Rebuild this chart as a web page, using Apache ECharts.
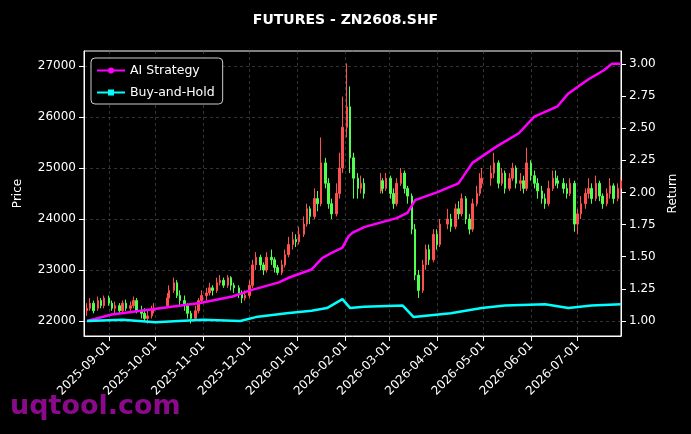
<!DOCTYPE html>
<html>
<head>
    <meta charset="utf-8">
    <title>FUTURES - ZN2608.SHF</title>
    <style>
        *{ margin:0; padding:0; box-sizing:border-box; }
        html, body, #chart{ width:100%; height:100%; overflow:hidden; background:#000; }
    </style>
</head>
<body>
    <div id="chart"></div>
    <script src="https://cdn.jsdelivr.net/npm/echarts@6/dist/echarts.min.js"></script>
    <script>
        // [date, open, close, low, high]
        var candles = [
            ['2025-08-18',22200,22250,22100,22350],['2025-08-20',22250,22350,22200,22450],['2025-08-22',22350,22200,22150,22400],
            ['2025-08-25',22250,22400,22200,22480],['2025-08-27',22400,22300,22250,22450],['2025-08-29',22300,22450,22250,22500],
            ['2025-09-01',22450,22350,22300,22500],['2025-09-03',22350,22250,22200,22400],['2025-09-05',22250,22300,22150,22380],
            ['2025-09-08',22300,22200,22150,22350],['2025-09-10',22200,22350,22150,22400],['2025-09-12',22350,22250,22200,22420],
            ['2025-09-15',22250,22300,22200,22380],['2025-09-17',22300,22400,22250,22480],['2025-09-19',22400,22200,22150,22450],
            ['2025-09-22',22200,22150,22050,22300],['2025-09-24',22150,22050,22000,22250],['2025-09-26',22050,22100,21950,22200],
            ['2025-09-29',22100,22200,22050,22300],['2025-09-30',22200,22250,22150,22350],
            ['2025-10-09',22300,22450,22250,22550],['2025-10-10',22450,22600,22400,22700],
            ['2025-10-13',22600,22750,22550,22850],['2025-10-15',22750,22500,22450,22800],['2025-10-17',22500,22400,22300,22600],
            ['2025-10-20',22400,22300,22200,22500],['2025-10-22',22300,22150,22050,22350],['2025-10-24',22150,22050,21950,22200],
            ['2025-10-27',22050,22200,22000,22300],['2025-10-29',22200,22400,22150,22450],['2025-10-31',22400,22500,22350,22600],
            ['2025-11-03',22500,22550,22400,22650],['2025-11-05',22550,22650,22500,22750],['2025-11-07',22650,22600,22500,22700],
            ['2025-11-10',22600,22750,22550,22850],['2025-11-12',22750,22800,22700,22900],['2025-11-14',22800,22700,22650,22850],
            ['2025-11-17',22700,22850,22650,22900],['2025-11-19',22850,22700,22600,22880],['2025-11-21',22700,22650,22550,22750],
            ['2025-11-24',22650,22550,22450,22700],['2025-11-26',22550,22450,22350,22600],['2025-11-28',22450,22500,22400,22600],
            ['2025-12-01',22500,22700,22450,22800],['2025-12-03',22700,23100,22650,23200],['2025-12-05',23100,23250,23000,23350],
            ['2025-12-08',23250,23100,23000,23300],['2025-12-10',23100,23000,22900,23150],['2025-12-12',23000,23250,22950,23350],
            ['2025-12-15',23250,23200,23100,23400],['2025-12-17',23200,23050,22950,23250],['2025-12-19',23050,22950,22900,23100],
            ['2025-12-22',22950,23100,22900,23200],['2025-12-24',23100,23300,23050,23400],['2025-12-26',23300,23500,23250,23650],
            ['2025-12-29',23500,23600,23400,23750],['2025-12-31',23600,23550,23450,23700],['2026-01-02',23550,23700,23500,23850],
            ['2026-01-05',23700,23900,23650,24050],['2026-01-07',23900,24200,23850,24300],['2026-01-09',24200,24050,23900,24250],
            ['2026-01-12',24050,24400,24000,24600],['2026-01-14',24400,24300,24150,24550],['2026-01-16',24300,25100,24250,25600],
            ['2026-01-19',25100,24700,24600,25200],['2026-01-21',24700,24300,24200,24800],['2026-01-23',24300,24100,24000,24400],
            ['2026-01-26',24100,24500,24050,24700],['2026-01-28',24500,25000,24400,25300],['2026-01-30',25000,25800,24900,26400],
            ['2026-02-02',25800,26200,25600,27050],['2026-02-04',26200,25200,24900,26600],['2026-02-06',25200,24800,24400,25300],
            ['2026-02-09',24800,24600,24400,24900],['2026-02-11',24600,24700,24500,24850],['2026-02-13',24700,24500,24400,24800],
            ['2026-02-24',24550,24750,24500,24900],['2026-02-25',24750,24600,24500,24800],['2026-02-27',24600,24800,24550,24900],
            ['2026-03-02',24800,24500,24400,24850],['2026-03-04',24500,24300,24200,24600],['2026-03-06',24300,24700,24250,24800],
            ['2026-03-09',24700,24900,24650,25000],['2026-03-11',24900,24600,24500,24950],['2026-03-13',24600,24450,24300,24650],
            ['2026-03-16',24450,23800,23700,24500],['2026-03-18',23800,22900,22800,23900],['2026-03-20',22900,22600,22450,23000],
            ['2026-03-23',22600,23100,22550,23200],['2026-03-25',23100,23400,23000,23500],['2026-03-27',23400,23200,23100,23500],
            ['2026-03-30',23200,23700,23150,23800],['2026-04-01',23700,23500,23400,23800],['2026-04-03',23500,23900,23450,24000],
            ['2026-04-08',23900,24000,23800,24200],['2026-04-10',24000,23850,23750,24100],
            ['2026-04-13',23850,24200,23800,24300],['2026-04-15',24200,24100,24000,24350],['2026-04-17',24100,24400,24050,24500],
            ['2026-04-20',24400,24000,23900,24450],['2026-04-22',24000,23800,23700,24100],['2026-04-24',23800,24300,23750,24400],
            ['2026-04-27',24300,24500,24250,24650],['2026-04-29',24500,24700,24450,24900],['2026-04-30',24700,24800,24600,25000],
            ['2026-05-06',24800,24900,24650,25050],['2026-05-08',24900,25100,24800,25300],
            ['2026-05-11',25100,24700,24600,25150],['2026-05-13',24700,24900,24650,25000],['2026-05-15',24900,24600,24500,24950],
            ['2026-05-18',24600,24800,24550,24900],['2026-05-20',24800,25000,24750,25100],['2026-05-22',25000,24700,24600,25050],
            ['2026-05-25',24700,24750,24550,24900],['2026-05-27',24750,24600,24500,24850],['2026-05-29',24600,25100,24550,25400],
            ['2026-06-01',25100,24850,24750,25150],['2026-06-03',24850,24700,24600,24950],['2026-06-05',24700,24550,24400,24800],
            ['2026-06-08',24550,24400,24300,24650],['2026-06-10',24400,24300,24200,24500],['2026-06-12',24300,24600,24250,24750],
            ['2026-06-15',24600,24800,24550,24950],['2026-06-17',24800,24750,24650,24950],['2026-06-18',24750,24700,24600,24850],
            ['2026-06-22',24700,24600,24500,24800],['2026-06-24',24600,24500,24400,24700],['2026-06-26',24500,24700,24450,24800],
            ['2026-06-29',24700,23900,23750,24750],['2026-07-01',23900,24100,23700,24200],['2026-07-03',24100,24300,24000,24450],
            ['2026-07-06',24300,24500,24200,24600],['2026-07-08',24500,24600,24400,24800],['2026-07-10',24600,24400,24300,24700],
            ['2026-07-13',24400,24700,24350,24850],['2026-07-15',24700,24450,24350,24750],['2026-07-17',24450,24300,24200,24500],
            ['2026-07-20',24300,24500,24250,24600],['2026-07-22',24500,24650,24400,24800],['2026-07-24',24650,24400,24300,24700],
            ['2026-07-27',24400,24600,24350,24700],['2026-07-29',24600,24750,24500,24850]
        ];

        var aiReturn = [
            ['2025-08-18',1.00],['2025-09-03',1.05],['2025-09-28',1.09],['2025-10-30',1.14],['2025-11-20',1.19],
            ['2025-12-02',1.24],['2025-12-20',1.30],['2025-12-27',1.34],['2026-01-10',1.40],['2026-01-17',1.49],
            ['2026-01-23',1.53],['2026-01-30',1.57],['2026-02-03',1.66],['2026-02-06',1.69],['2026-02-13',1.73],
            ['2026-03-06',1.80],['2026-03-13',1.84],['2026-03-18',1.94],['2026-04-01',2.00],['2026-04-15',2.07],
            ['2026-04-24',2.23],['2026-05-10',2.36],['2026-05-24',2.46],['2026-06-03',2.59],['2026-06-18',2.67],
            ['2026-06-25',2.77],['2026-07-08',2.88],['2026-07-18',2.95],['2026-07-23',3.00],['2026-07-29',3.00]
        ];

        var bhReturn = [
            ['2025-08-18',1.00],['2025-09-10',1.01],['2025-10-01',0.99],['2025-11-01',1.01],['2025-11-25',1.00],
            ['2025-12-05',1.03],['2025-12-25',1.06],['2026-01-10',1.08],['2026-01-20',1.10],['2026-01-30',1.17],
            ['2026-02-04',1.10],['2026-02-13',1.11],['2026-03-10',1.12],['2026-03-17',1.03],['2026-03-25',1.04],
            ['2026-04-10',1.06],['2026-04-30',1.10],['2026-05-15',1.12],['2026-06-10',1.13],['2026-06-25',1.10],
            ['2026-07-10',1.12],['2026-07-29',1.13]
        ];

        var monthTicks = ['2025-09-01','2025-10-01','2025-11-01','2025-12-01','2026-01-01','2026-02-01',
            '2026-03-01','2026-04-01','2026-05-01','2026-06-01','2026-07-01'];
        var priceTicks = [22000, 23000, 24000, 25000, 26000, 27000];
        var returnTicks = [1.00, 1.25, 1.50, 1.75, 2.00, 2.25, 2.50, 2.75, 3.00];

        var font = 'DejaVu Sans';
        function ts(d) { return Date.UTC(+d.slice(0, 4), +d.slice(5, 7) - 1, +d.slice(8, 10)); }
        function pad(n) { return (n < 10 ? '0' : '') + n; }
        function fmt(v) { var d = new Date(v); return d.getUTCFullYear() + '-' + pad(d.getUTCMonth() + 1) + '-' + pad(d.getUTCDate()); }
        var tickTs = monthTicks.map(ts);
        var splitDash = { show: true, lineStyle: { color: '#555', type: [3, 3], width: 0.6 } };

        var myChart = echarts.init(document.getElementById('chart'));
        var option = {
            backgroundColor: '#000',
            animation: false,
            title: {
                text: 'FUTURES - ZN2608.SHF', left: 'center', top: 8,
                textStyle: { color: '#fff', fontSize: 14, fontWeight: 'bold', fontFamily: font }
            },
            legend: {
                left: 91, top: 58, orient: 'vertical', itemGap: 9,
                backgroundColor: '#000', borderColor: '#ccc', borderWidth: 1, borderRadius: 4,
                padding: [6, 8, 5, 6], itemWidth: 28, itemHeight: 6,
                textStyle: { color: '#fff', fontSize: 12.5, fontFamily: font },
                data: [
                    { name: 'AI Strategy', icon: 'path://M0,2H28V4H0Z M17,3A3,3 0 1 1 11,3A3,3 0 1 1 17,3Z' },
                    { name: 'Buy-and-Hold', icon: 'path://M0,2H28V4H0Z M11,0H17V6H11Z' }
                ]
            },
            graphic: [{
                type: 'text', left: 10, top: 393,
                style: { text: 'uqtool.com', fill: '#8b0a8b', fontSize: 27, fontWeight: 'bold', fontFamily: font }
            }],
            grid: { left: 84, right: 70, top: 51, bottom: 98, show: true, borderColor: '#fff', borderWidth: 1 },
            xAxis: {
                type: 'value', min: ts('2025-08-16'), max: ts('2026-07-29'),
                axisLine: { lineStyle: { color: '#fff' } },
                axisTick: { show: true, customValues: tickTs, lineStyle: { color: '#fff' } },
                axisLabel: {
                    customValues: tickTs, rotate: 45, color: '#fff', fontSize: 12, fontFamily: font,
                    formatter: fmt
                },
                splitLine: splitDash
            },
            yAxis: [{
                type: 'value', min: 21706, max: 27294, name: 'Price', nameLocation: 'middle', nameGap: 60,
                nameTextStyle: { color: '#fff', fontSize: 12, fontFamily: font },
                axisLine: { show: true, lineStyle: { color: '#fff' } },
                axisTick: { show: true, customValues: priceTicks, lineStyle: { color: '#fff' } },
                axisLabel: { customValues: priceTicks, color: '#fff', fontSize: 12, fontFamily: font,
                    formatter: function (v) { return String(v); } },
                splitLine: splitDash
            }, {
                type: 'value', min: 0.883, max: 3.10, name: 'Return', nameLocation: 'middle', nameGap: 46,
                nameTextStyle: { color: '#fff', fontSize: 12, fontFamily: font },
                axisLine: { show: true, lineStyle: { color: '#fff' } },
                axisTick: { show: true, customValues: returnTicks, lineStyle: { color: '#fff' } },
                axisLabel: {
                    customValues: returnTicks, color: '#fff', fontSize: 12, fontFamily: font,
                    formatter: function (v) { return v.toFixed(2); }
                },
                splitLine: { show: false }
            }],
            series: [{
                type: 'candlestick', name: 'Price', yAxisIndex: 0, barWidth: 2,
                data: candles.map(function (c) { return [ts(c[0]), c[1], c[2], c[3], c[4]]; }),
                encode: { x: 0, y: [1, 2, 3, 4] },
                itemStyle: { color: '#ff5050', color0: '#50ff50', borderColor: '#ff5050', borderColor0: '#50ff50', borderWidth: 1 }
            }, {
                type: 'line', name: 'AI Strategy', yAxisIndex: 1, showSymbol: false,
                data: aiReturn.map(function (p) { return [ts(p[0]), p[1]]; }),
                lineStyle: { color: '#ff00ff', width: 2.5 }, itemStyle: { color: '#ff00ff' }
            }, {
                type: 'line', name: 'Buy-and-Hold', yAxisIndex: 1, showSymbol: false,
                data: bhReturn.map(function (p) { return [ts(p[0]), p[1]]; }),
                lineStyle: { color: '#00ffff', width: 2.5 }, itemStyle: { color: '#00ffff' }
            }]
        };
        myChart.setOption(option);
    </script>
</body>
</html>
